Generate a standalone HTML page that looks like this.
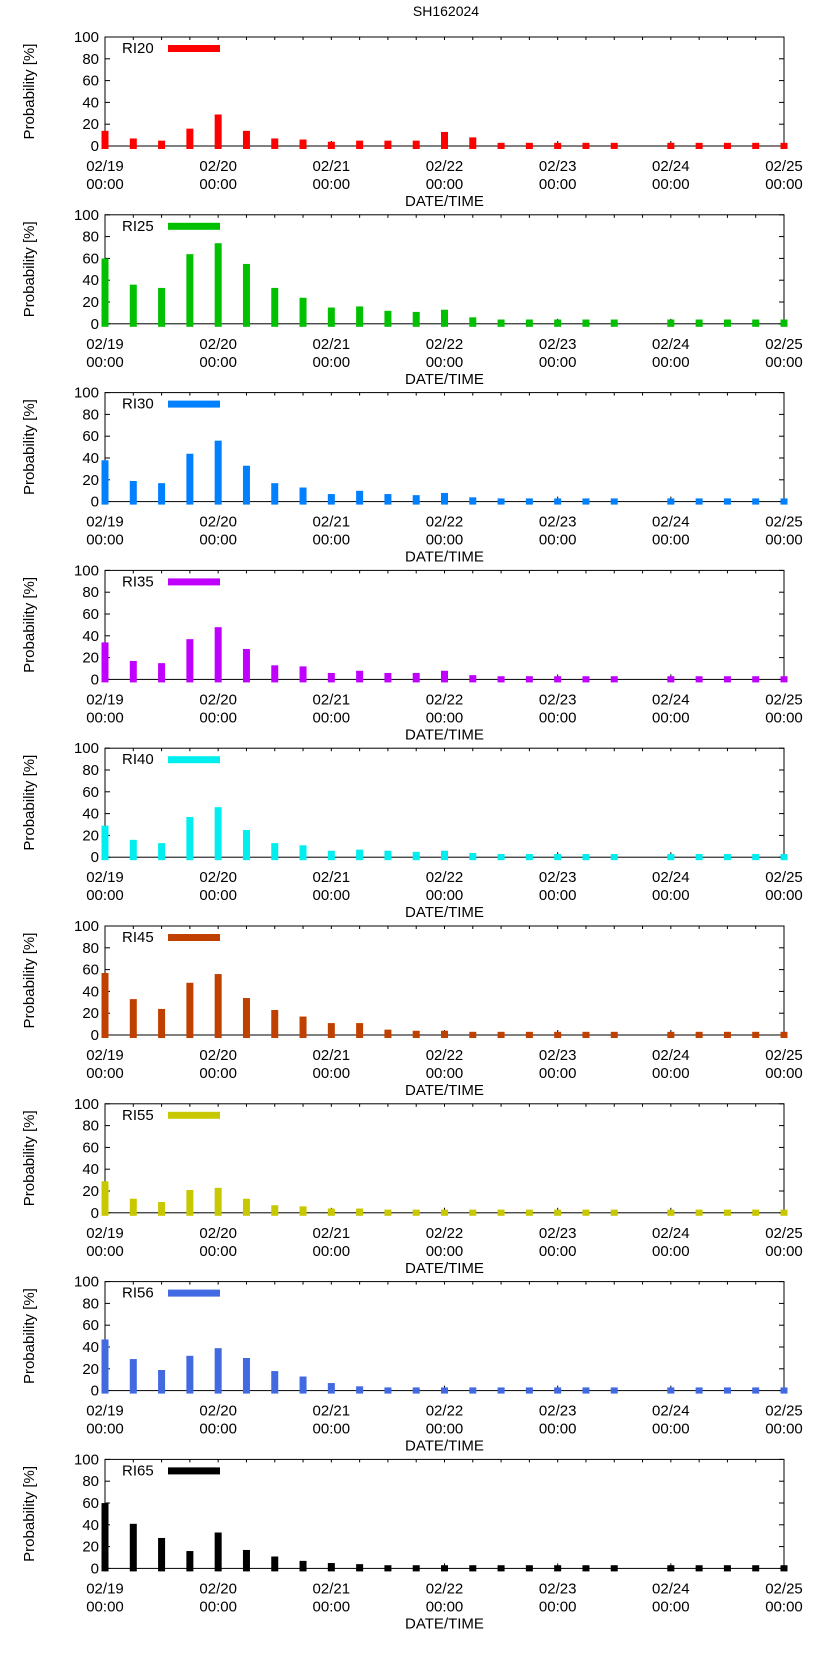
<!DOCTYPE html>
<html><head><meta charset="utf-8"><style>
html,body{margin:0;padding:0;background:#fff;}
svg text{font-family:"Liberation Sans",sans-serif;}
</style></head><body>
<svg id="c" width="822" height="1653" xmlns="http://www.w3.org/2000/svg">
<text x="446" y="16" font-size="14" text-anchor="middle">SH162024</text>
</svg>
<script>
const seriesNames = ["RI20","RI25","RI30","RI35","RI40","RI45","RI55","RI56","RI65"];
const seriesColors = ["#ff0000","#00c000","#0080ff","#c000ff","#00eeee","#c04000","#c8c800","#4169e1","#000000"];
const xTickLabels = ["02/19","02/20","02/21","02/22","02/23","02/24","02/25"];
const yTicks = [0,20,40,60,80,100];
const ri20 = [13,6,4,15,28,13,6,5,3,4,4,4,12,7,2,2,2,2,2,null,2,2,2,2,2];
const ri25 = [59,35,32,63,73,54,32,23,14,15,11,10,12,5,3,3,3,3,3,null,3,3,3,3,3];
const ri30 = [37,18,16,43,55,32,16,12,6,9,6,5,7,3,2,2,2,2,2,null,2,2,2,2,2];
const ri35 = [33,16,14,36,47,27,12,11,5,7,5,5,7,3,2,2,2,2,2,null,2,2,2,2,2];
const ri40 = [28,15,12,36,45,24,12,10,5,6,5,4,5,3,2,2,2,2,2,null,2,2,2,2,2];
const ri45 = [56,32,23,47,55,33,22,16,10,10,4,3,3,2,2,2,2,2,2,null,2,2,2,2,2];
const ri55 = [28,12,9,20,22,12,6,5,3,3,2,2,2,2,2,2,2,2,2,null,2,2,2,2,2];
const ri56 = [46,28,18,31,38,29,17,12,6,3,2,2,2,2,2,2,2,2,2,null,2,2,2,2,2];
const ri65 = [59,40,27,15,32,16,10,6,4,3,2,2,2,2,2,2,2,2,2,null,2,2,2,2,2];
const allSeries = [ri20,ri25,ri30,ri35,ri40,ri45,ri55,ri56,ri65];

const svg=document.getElementById('c');
const NS="http://www.w3.org/2000/svg";
function mk(tag,attrs,parent){const e=document.createElementNS(NS,tag);for(const k in attrs)e.setAttribute(k,attrs[k]);(parent||svg).appendChild(e);return e;}
const L=105,R=784,H=109,top0=37,step=177.8,hours=144;
function xs(h){return L+(R-L)*h/hours;}
allSeries.forEach((data,p)=>{
  const T=top0+p*step,B=T+H;
  const ys=v=>B-H*v/100;
  const g=mk('g',{});
  
  
  const fr=mk('rect',{x:L,y:T,width:R-L,height:H,fill:'none',stroke:'#000','stroke-width':1},g);
  
  
  yTicks.forEach(t=>{
    const y=ys(t);
    mk('line',{x1:L,x2:L+5,y1:y,y2:y,stroke:'#000'},g);
    mk('line',{x1:R-5,x2:R,y1:y,y2:y,stroke:'#000'},g);
    const tx=mk('text',{x:L-6,y:y+5,'font-size':15,'text-anchor':'end'},g);
    tx.textContent=t;
    
    
  });
  for(let i=0;i<=24;i++){const x=xs(i*6);mk('line',{x1:x,x2:x,y1:T,y2:T+3,stroke:'#000'},g);}
  xTickLabels.forEach((lab,i)=>{
    const x=xs(i*24);
    mk('line',{x1:x,x2:x,y1:B-5,y2:B,stroke:'#000'},g);
    const t1=mk('text',{x:x,y:T+134,'font-size':15,'text-anchor':'middle'},g);
    t1.textContent=lab;
    
    
    const t2=mk('text',{x:x,y:T+152,'font-size':15,'text-anchor':'middle'},g);
    t2.textContent='00:00';
    
    
  });
  const xt=mk('text',{x:(L+R)/2,y:T+169,'font-size':15,'text-anchor':'middle'},g);
  xt.textContent='DATE/TIME';
  
  
  const cy=T+H/2;
  const yt=mk('text',{x:34,y:cy,'font-size':15,'text-anchor':'middle',transform:`rotate(-90 34 ${cy})`},g);
  yt.textContent='Probability [%]';
  
  
  data.forEach((v,i)=>{
    if(v==null)return;
    const x=xs(i*6);
    const r=mk('rect',{x:x-3.5,y:ys(v)-1,width:7,height:B-ys(v)+4,fill:seriesColors[p]},g);
    
    
  });
  const lt=mk('text',{x:122,y:T+16,'font-size':15},g);
  lt.textContent=seriesNames[p];
  
  
  const ll=mk('rect',{x:168,y:T+8,width:52,height:7,fill:seriesColors[p]},g);
  
  
});
</script>
</body></html>
